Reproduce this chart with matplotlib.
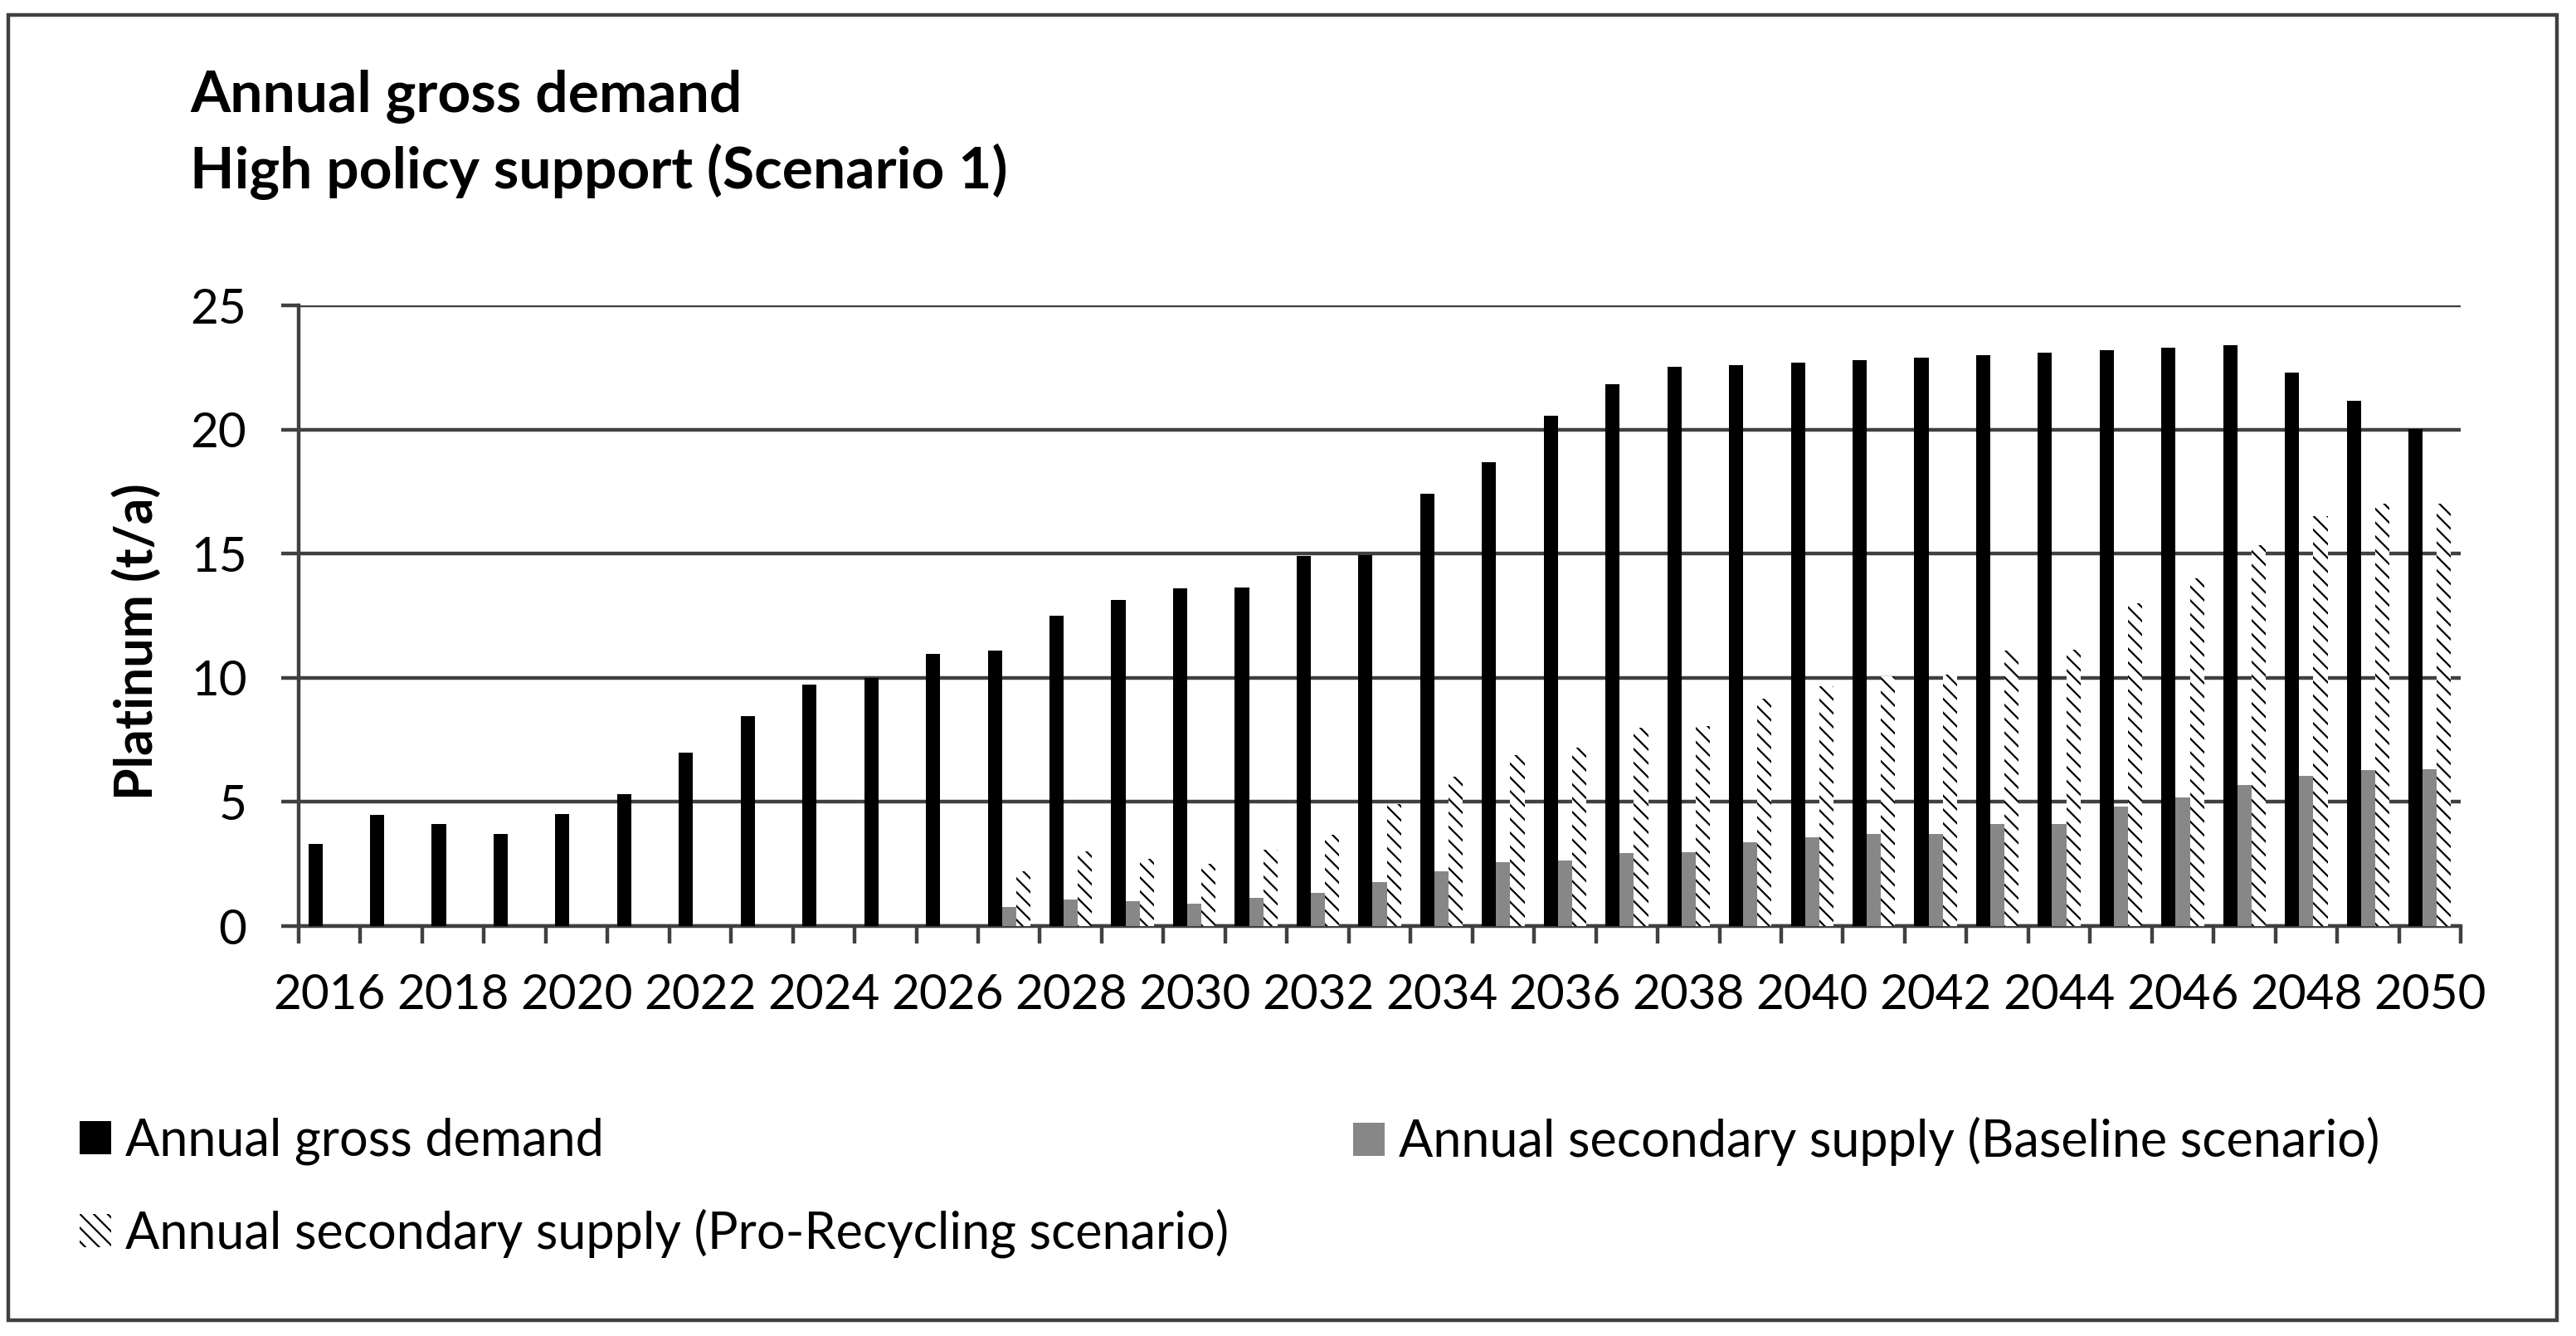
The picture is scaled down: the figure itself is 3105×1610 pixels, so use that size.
import numpy as np
import matplotlib
matplotlib.use("Agg")
import matplotlib.pyplot as plt
from matplotlib.patches import Rectangle

years = list(range(2016, 2051))

# Platinum, t/a
gross_demand = [3.31, 4.49, 4.11, 3.72, 4.52, 5.33, 7.00, 8.46, 9.73, 10.00,
                10.95, 11.09, 12.51, 13.12, 13.61, 13.64, 14.91, 14.95, 17.40, 18.67,
                20.57, 21.84, 22.54, 22.61, 22.69, 22.80, 22.90, 23.01, 23.09, 23.20,
                23.30, 23.41, 22.29, 21.16, 20.03]
supply_baseline = [0, 0, 0, 0, 0, 0, 0, 0, 0, 0,
                   0, 0.77, 1.07, 1.00, 0.90, 1.13, 1.33, 1.77, 2.21, 2.58,
                   2.63, 2.94, 2.96, 3.36, 3.57, 3.71, 3.72, 4.11, 4.11, 4.80,
                   5.17, 5.69, 6.06, 6.30, 6.33]
supply_recycling = [0, 0, 0, 0, 0, 0, 0, 0, 0, 0,
                    0, 2.20, 3.00, 2.70, 2.50, 3.07, 3.67, 4.90, 6.00, 6.90,
                    7.20, 8.00, 8.06, 9.15, 9.66, 10.06, 10.13, 11.10, 11.14, 13.00,
                    14.00, 15.33, 16.50, 17.00, 17.00]

series_labels = ["Annual gross demand",
                 "Annual secondary supply (Baseline scenario)",
                 "Annual secondary supply (Pro-Recycling scenario)"]

plt.rcParams['font.family'] = ['Lato', 'DejaVu Sans']
plt.rcParams['hatch.linewidth'] = 1.6

GRID = '#404040'
W, H = 3105, 1610
LW = 3.2

fig = plt.figure(figsize=(W / 100, H / 100), dpi=100)
ax = fig.add_axes([360 / W, 1 - 1116 / H, (2966 - 360) / W, (1116 - 368) / H])

x = np.arange(len(years))
bw = 0.23
b1 = ax.bar(x - bw, gross_demand, bw, color='black', zorder=3)
b2 = ax.bar(x, supply_baseline, bw, color='#878787', zorder=3)
b3 = ax.bar(x + bw, supply_recycling, bw, facecolor='white', edgecolor='black',
            linewidth=0, hatch='\\\\', zorder=3)

ax.set_xlim(-0.5, len(years) - 0.5)
ax.set_ylim(0, 25)
ax.set_yticks(range(0, 26, 5))
ax.yaxis.grid(True, color=GRID, linewidth=LW, zorder=1)
ax.set_axisbelow(True)

# tick marks between categories, labels every second year
ax.set_xticks(np.arange(-0.5, len(years), 1.0))
ax.set_xticklabels([])
ax.set_xticks(x[::2], minor=True)
ax.set_xticklabels([str(y) for y in years[::2]], minor=True)
ax.tick_params(axis='x', which='major', direction='out', length=15, width=LW, color=GRID)
ax.tick_params(axis='x', which='minor', length=0, pad=41, labelsize=42)
ax.tick_params(axis='y', direction='out', length=15, width=LW, color=GRID,
               pad=30, labelsize=42)

for s in ['top', 'right']:
    ax.spines[s].set_visible(False)
for s in ['left', 'bottom']:
    ax.spines[s].set_color(GRID)
    ax.spines[s].set_linewidth(LW)

fig.text(229 / W, 1 - 135 / H, "Annual gross demand", fontsize=50,
         fontweight='bold', va='baseline', ha='left')
fig.text(229 / W, 1 - 227 / H, "High policy support (Scenario 1)", fontsize=50,
         fontweight='bold', va='baseline', ha='left')
fig.text(165 / W, 1 - 773 / H, "Platinum (t/a)", fontsize=45, fontweight='bold',
         rotation=90, ha='center', va='center')

leg_kw = dict(loc='upper left', frameon=False, fontsize=44, borderpad=0,
              borderaxespad=0, handlelength=0.62, handleheight=0.63,
              handletextpad=0.28, labelspacing=0.86)
fig.legend([b1, b3], [series_labels[0], series_labels[2]],
           bbox_to_anchor=(96 / W, 1 - 1346 / H), **leg_kw)
fig.legend([b2], [series_labels[1]],
           bbox_to_anchor=(1631 / W, 1 - 1346 / H), **leg_kw)

fig.patches.append(Rectangle((10 / W, 1 - 1591 / H), (3082 - 10) / W, (1591 - 18) / H,
                             transform=fig.transFigure, fill=False,
                             edgecolor=GRID, linewidth=3.2))

fig.savefig("out.png", dpi=100, facecolor='white')
